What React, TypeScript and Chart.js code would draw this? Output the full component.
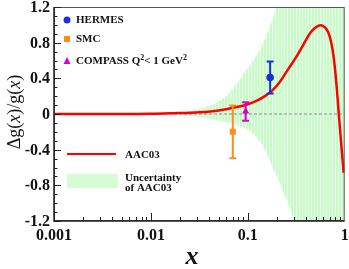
import React, { useEffect, useRef } from "react";
import { Chart, registerables } from "chart.js";

Chart.register(...registerables);

// AAC03 central curve
const curveX = [0.001, 0.005, 0.01, 0.016, 0.032, 0.05, 0.07, 0.1, 0.124, 0.15, 0.177, 0.214, 0.26, 0.32, 0.38, 0.435, 0.467, 0.5, 0.566, 0.59, 0.65, 0.7, 0.75, 0.79, 0.83, 0.866, 0.92, 0.975];
const curveY = [0, 0, 0.002, 0.008, 0.02, 0.04, 0.07, 0.11, 0.15, 0.2, 0.26, 0.36, 0.5, 0.65, 0.79, 0.9, 0.94, 0.97, 0.995, 0.99, 0.95, 0.87, 0.72, 0.53, 0.28, 0.02, -0.33, -0.66];

// Uncertainty band of AAC03
const bandX = [0.01, 0.016, 0.022, 0.032, 0.042, 0.0514, 0.062, 0.077, 0.09, 0.105, 0.12, 0.133, 0.15, 0.161, 0.175, 0.185, 0.199, 0.215, 0.23, 0.25, 0.271, 0.298, 0.33, 0.4, 0.6, 1];
const bandUpper = [0.003, 0.014, 0.028, 0.06, 0.1, 0.15, 0.22, 0.34, 0.45, 0.54, 0.64, 0.72, 0.84, 0.92, 1.03, 1.1, 1.22, 1.36, 1.5, 1.7, 1.9, 2.2, 2.5, 3, 3, 3];
const bandLower = [-0.002, -0.008, -0.015, -0.035, -0.055, -0.075, -0.095, -0.12, -0.15, -0.19, -0.25, -0.31, -0.4, -0.47, -0.56, -0.63, -0.69, -0.78, -0.87, -0.96, -1.06, -1.2, -1.4, -2, -3, -3];

// Experimental points
const hermesX = [0.17];
const hermesY = [0.41];
const hermesErr = [0.18];
const smcX = [0.07];
const smcY = [-0.2];
const smcErr = [0.295];
const compassX = [0.095];
const compassY = [0.028];
const compassErr = [0.105];

// Axis ticks
const yTicks = [-1.2, -0.8, -0.4, 0, 0.4, 0.8, 1.2];
const yTickLabels = ["-1.2", "-0.8", "-0.4", "0", "0.4", "0.8", "1.2"];
const xTicks = [0.001, 0.01, 0.1, 1];
const xTickLabels = ["0.001", "0.01", "0.1", "1"];

const SERIF = "'Liberation Serif', 'DejaVu Serif', serif";

const zip = (xs: number[], ys: number[]) => xs.map((x, i) => ({ x, y: ys[i] }));

export default function App() {
  const ref = useRef<HTMLCanvasElement | null>(null);

  useEffect(() => {
    document.body.style.margin = "0";
    const canvas = ref.current!;
    const pc = document.createElement("canvas");
    pc.width = 3;
    pc.height = 4;
    const pctx = pc.getContext("2d")!;
    pctx.fillStyle = "#c8fac8";
    pctx.fillRect(0, 0, 3, 4);
    pctx.fillStyle = "#eaffea";
    pctx.fillRect(2, 0, 1, 4);
    const pattern = canvas.getContext("2d")!.createPattern(pc, "repeat")!;

    const errSets = [
      { xs: hermesX, ys: hermesY, es: hermesErr, color: "#1a2fd6" },
      { xs: smcX, ys: smcY, es: smcErr, color: "#ff8c1a" },
      { xs: compassX, ys: compassY, es: compassErr, color: "#d600d6" },
    ];

    const deco = {
      id: "deco",
      afterDatasetDraw(chart: any, args: any) {
        if (args.index !== 3) return;
        const ctx = chart.ctx;
        const xs = chart.scales.x;
        const ys = chart.scales.y;
        ctx.save();
        ctx.lineWidth = 2;
        for (const s of errSets) {
          ctx.strokeStyle = s.color;
          s.xs.forEach((xv, i) => {
            const px = xs.getPixelForValue(xv);
            const pt = ys.getPixelForValue(s.ys[i] + s.es[i]);
            const pb = ys.getPixelForValue(s.ys[i] - s.es[i]);
            ctx.beginPath();
            ctx.moveTo(px, pt);
            ctx.lineTo(px, pb);
            ctx.moveTo(px - 3.5, pt);
            ctx.lineTo(px + 3.5, pt);
            ctx.moveTo(px - 3.5, pb);
            ctx.lineTo(px + 3.5, pb);
            ctx.stroke();
          });
        }
        ctx.restore();
      },
      afterDraw(chart: any) {
        const ctx = chart.ctx;
        const a = chart.chartArea;
        const xs = chart.scales.x;
        const ys = chart.scales.y;
        ctx.save();
        // frame
        ctx.strokeStyle = "#555";
        ctx.lineWidth = 1;
        ctx.strokeRect(a.left + 0.5, a.top + 0.5, a.right - a.left - 1, a.bottom - a.top - 1);
        ctx.strokeStyle = "#222";
        ctx.lineWidth = 1.5;
        ctx.beginPath();
        ctx.moveTo(a.left, a.top);
        ctx.lineTo(a.left, a.bottom);
        ctx.lineTo(a.right, a.bottom);
        ctx.stroke();
        // y ticks
        ctx.lineWidth = 1;
        ctx.beginPath();
        for (let v = -12; v <= 12; v++) {
          const py = Math.round(ys.getPixelForValue(v / 10)) + 0.5;
          const len = v % 4 === 0 ? 7 : 3.5;
          ctx.moveTo(a.left, py);
          ctx.lineTo(a.left + len, py);
        }
        // x ticks
        for (let d = -3; d < 0; d++) {
          for (let m = 1; m <= 9; m++) {
            const val = m * Math.pow(10, d);
            const px = Math.round(xs.getPixelForValue(val)) + 0.5;
            const len = m === 1 ? 8 : 4;
            ctx.moveTo(px, a.bottom);
            ctx.lineTo(px, a.bottom - len);
          }
        }
        ctx.stroke();
        // tick labels
        ctx.fillStyle = "#111";
        ctx.font = `bold 16px ${SERIF}`;
        ctx.textAlign = "right";
        ctx.textBaseline = "middle";
        yTicks.forEach((v, i) => {
          ctx.fillText(yTickLabels[i], a.left - 4, ys.getPixelForValue(v) + 1);
        });
        ctx.textAlign = "center";
        ctx.textBaseline = "alphabetic";
        xTicks.forEach((v, i) => {
          let px = xs.getPixelForValue(v);
          ctx.fillText(xTickLabels[i], px, 240);
        });
        // x title
        ctx.font = `italic bold 26px ${SERIF}`;
        ctx.fillText("x", 192, 264);
        // y title
        const parts: [string, boolean][] = [["Δg(", false], ["x", true], [")/g(", false], ["x", true], [")", false]];
        const fN = `18px ${SERIF}`;
        const fI = `italic 18px ${SERIF}`;
        let total = 0;
        for (const [t, it] of parts) {
          ctx.font = it ? fI : fN;
          total += ctx.measureText(t).width;
        }
        ctx.translate(20, 112);
        ctx.rotate(-Math.PI / 2);
        ctx.textAlign = "left";
        let cx = -total / 2;
        for (const [t, it] of parts) {
          ctx.font = it ? fI : fN;
          ctx.fillText(t, cx, 0);
          cx += ctx.measureText(t).width;
        }
        ctx.setTransform(1, 0, 0, 1, 0, 0);

        // legends
        ctx.font = `bold 11px ${SERIF}`;
        ctx.textAlign = "left";
        ctx.textBaseline = "middle";
        ctx.fillStyle = "#111";
        // HERMES marker
        ctx.fillStyle = "#1a2fd6";
        ctx.beginPath();
        ctx.arc(67, 20, 3.5, 0, Math.PI * 2);
        ctx.fill();
        ctx.fillStyle = "#ff8c1a";
        ctx.fillRect(64, 36, 6, 6);
        ctx.fillStyle = "#d600d6";
        ctx.beginPath();
        ctx.moveTo(67, 57);
        ctx.lineTo(70.5, 64);
        ctx.lineTo(63.5, 64);
        ctx.closePath();
        ctx.fill();
        ctx.fillStyle = "#111";
        ctx.fillText("HERMES", 76, 20.5);
        ctx.fillText("SMC", 76, 39.5);
        let tx = 76;
        const seg = (t: string, sup: boolean) => {
          ctx.font = sup ? `bold 8px ${SERIF}` : `bold 11px ${SERIF}`;
          ctx.fillText(t, tx, sup ? 57.5 : 61.5);
          tx += ctx.measureText(t).width;
        };
        seg("COMPASS Q", false);
        seg("2", true);
        seg("< 1 GeV", false);
        seg("2", true);
        ctx.font = `bold 11px ${SERIF}`;
        ctx.strokeStyle = "#ff0000";
        ctx.lineWidth = 2;
        ctx.beginPath();
        ctx.moveTo(67, 154);
        ctx.lineTo(116, 154);
        ctx.stroke();
        ctx.fillText("AAC03", 125, 155);
        ctx.fillStyle = "#d6fcd6";
        ctx.fillRect(67, 174, 51, 14);
        ctx.fillStyle = "#111";
        ctx.fillText("Uncertainty", 125, 178);
        ctx.fillText("of AAC03", 125, 188.5);
        ctx.restore();
      },
    };

    const chart = new Chart(canvas, {
      type: "line",
      data: {
        datasets: [
          {
            label: "HERMES",
            data: zip(hermesX, hermesY),
            showLine: false,
            pointStyle: "circle",
            pointRadius: 3.8,
            backgroundColor: "#1a2fd6",
            borderColor: "#1a2fd6",
            borderWidth: 0,
          },
          {
            label: "SMC",
            data: zip(smcX, smcY),
            showLine: false,
            pointStyle: "rect",
            pointRadius: 4.3,
            backgroundColor: "#ff8c1a",
            borderColor: "#ff8c1a",
            borderWidth: 0,
          },
          {
            label: "COMPASS",
            data: zip(compassX, compassY),
            showLine: false,
            pointStyle: "triangle",
            pointRadius: 4.2,
            backgroundColor: "#d600d6",
            borderColor: "#d600d6",
            borderWidth: 0,
          },
          {
            label: "AAC03",
            data: zip(curveX, curveY),
            borderColor: "#ff0000",
            borderWidth: 2.5,
            pointRadius: 0,
            cubicInterpolationMode: "monotone",
            fill: false,
          },
          {
            label: "zero",
            data: [
              { x: 0.001, y: 0 },
              { x: 1, y: 0 },
            ],
            borderColor: "#8a8a8a",
            borderWidth: 1,
            borderDash: [3, 2],
            pointRadius: 0,
            fill: false,
          },
          {
            label: "bandUpper",
            data: zip(bandX, bandUpper),
            borderWidth: 0,
            borderColor: "rgba(0,0,0,0)",
            pointRadius: 0,
            cubicInterpolationMode: "monotone",
            fill: false,
          },
          {
            label: "bandLower",
            data: zip(bandX, bandLower),
            borderWidth: 0,
            borderColor: "rgba(0,0,0,0)",
            backgroundColor: pattern as any,
            pointRadius: 0,
            cubicInterpolationMode: "monotone",
            fill: "-1",
          },
        ],
      },
      options: {
        animation: false,
        responsive: false,
        events: [],
        layout: { padding: { top: 7, right: 4, left: 0, bottom: 0 } },
        plugins: { legend: { display: false }, tooltip: { enabled: false } },
        scales: {
          x: {
            type: "logarithmic",
            min: 0.001,
            max: 1,
            ticks: { display: false },
            grid: { display: false },
            border: { display: false },
            afterFit: (s: any) => {
              s.height = 48;
            },
          },
          y: {
            type: "linear",
            min: -1.2,
            max: 1.2,
            ticks: { display: false },
            grid: { display: false },
            border: { display: false },
            afterFit: (s: any) => {
              s.width = 54;
            },
          },
        },
      },
      plugins: [deco],
    } as any);
    return () => chart.destroy();
  }, []);

  return (
    <div style={{ width: 349, height: 269 }}>
      <canvas ref={ref} width={349} height={269} style={{ display: "block" }} />
    </div>
  );
}
